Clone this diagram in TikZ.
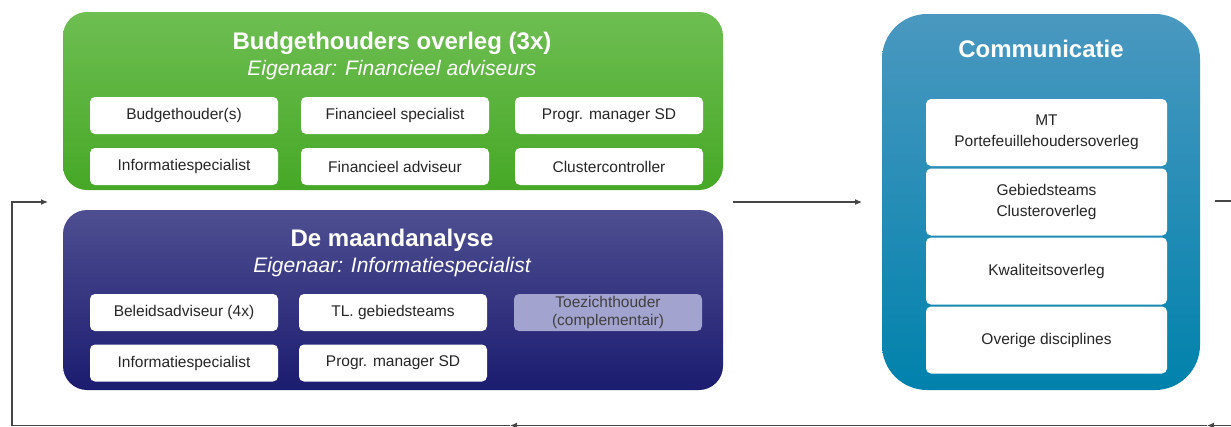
\documentclass[tikz,border=0pt]{standalone}
\usepackage{fontspec}
\setmainfont{Liberation Sans}
\usetikzlibrary{arrows.meta}

\definecolor{greentop}{RGB}{110,190,82}
\definecolor{greenbot}{RGB}{70,168,38}
\definecolor{navytop}{RGB}{78,78,145}
\definecolor{navybot}{RGB}{28,28,112}
\definecolor{tealtop}{RGB}{74,152,192}
\definecolor{tealbot}{RGB}{0,130,172}
\definecolor{lavender}{RGB}{163,163,207}
\definecolor{loopgray}{RGB}{70,70,70}

\tikzset{
  panel/.style={rounded corners=24pt, inner sep=0pt},
  paneltitle/.style={text=white, font=\fontsize{24}{28}\selectfont\bfseries},
  panelsub/.style={text=white, font=\fontsize{21}{25}\selectfont\itshape},
  member/.style={fill=white, rounded corners=5pt, minimum width=188pt,
    minimum height=37pt, inner sep=0pt, align=center, text=black!85,
    font=\fontsize{15.5}{21}\selectfont},
  flow/.style={draw=loopgray, line width=1.1pt, -{Latex[length=7pt,width=6pt]}},
}

\begin{document}
\begin{tikzpicture}[x=1pt,y=-1pt]
  \useasboundingbox (0,0) rectangle (1231,426);

  % budgethouders overleg
  \node[panel, top color=greentop, bottom color=greenbot,
    minimum width=660pt, minimum height=178pt] (budget) at (393,101) {};
  \node[paneltitle] (budgettitle) at (392,43) {Budgethouders overleg (3x)};
  \node[panelsub] (budgetsub) at (392,70) {Eigenaar: Financieel adviseurs};
  \foreach \i/\x/\y/\txt in {1/184/115.5/Budgethouder(s),
      2/395/115.5/Financieel specialist, 3/609/115.5/Progr. manager SD,
      4/184/166.5/Informatiespecialist, 5/395/166.5/Financieel adviseur,
      6/609/166.5/Clustercontroller} % edit here for the members
  \node[member] (b\i) at (\x,\y) {\txt};

  % de maandanalyse
  \node[panel, top color=navytop, bottom color=navybot,
    minimum width=660pt, minimum height=180pt] (maand) at (393,300) {};
  \node[paneltitle] (maandtitle) at (392,240) {De maandanalyse};
  \node[panelsub] (maandsub) at (392,267) {Eigenaar: Informatiespecialist};
  \foreach \i/\x/\y/\txt in {1/184/312.5/Beleidsadviseur (4x),
      2/393/312.5/TL. gebiedsteams, 4/184/363/Informatiespecialist,
      5/393/363/Progr. manager SD} % edit here for the members
  \node[member] (m\i) at (\x,\y) {\txt};
  \node[member, fill=lavender, text=black!75] (m3) at (608,312.5)
    {Toezichthouder\\[-3pt](complementair)};

  % communicatie
  \node[panel, rounded corners=45pt, top color=tealtop, bottom color=tealbot,
    minimum width=318pt, minimum height=376pt] (comm) at (1041,202) {};
  \node[paneltitle] (commtitle) at (1041,49) {Communicatie};
  \foreach \i/\y/\txt in {1/132.5/MT\\Portefeuillehoudersoverleg,
      2/202/Gebiedsteams\\Clusteroverleg, 3/271/Kwaliteitsoverleg,
      4/340/Overige disciplines} % edit here for the members
  \node[member, minimum width=241pt, minimum height=67pt] (c\i) at (1046.5,\y) {\txt};

  % the loop
  \coordinate (out) at (733,202);
  \coordinate (commin) at (862,202);
  \coordinate (back) at (1215,201);
  \coordinate (corner1) at (1240,201);
  \coordinate (corner2) at (1240,425.5);
  \coordinate (tipa) at (1207,425.5);
  \coordinate (tipb) at (510,425.5);
  \coordinate (corner3) at (12,425.5);
  \coordinate (corner4) at (12,202);
  \coordinate (in) at (48,202);

  \draw[flow] (out) -- (commin);
  \draw[flow] (back) -- (corner1) -- (corner2) -- (tipa);
  \draw[flow] (tipa) -- (tipb);
  \draw[flow] (tipb) -- (corner3) -- (corner4) -- (in);

\end{tikzpicture}
\end{document}
